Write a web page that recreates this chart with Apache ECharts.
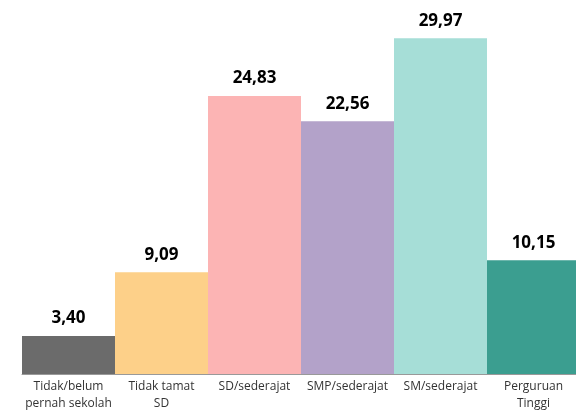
<!DOCTYPE html>
<html><head><meta charset="utf-8">
<script src="https://cdn.jsdelivr.net/npm/echarts@6/dist/echarts.min.js"></script>
<style>html,body{margin:0;padding:0;background:#fff;overflow:hidden;width:576px;height:412px}#c{width:580px;height:412px}</style>
</head><body><div id="c"></div>
<script>
const categories = ['Tidak/belum\npernah sekolah', 'Tidak tamat\nSD', 'SD/sederajat', 'SMP/sederajat', 'SM/sederajat', 'Perguruan\nTinggi'];
const values = [3.40, 9.09, 24.83, 22.56, 29.97, 10.15];
const colors = ['#6b6b6b', '#fdd089', '#fcb4b4', '#b3a2c9', '#a6ded7', '#3b9e90'];

const chart = echarts.init(document.getElementById('c'));
chart.setOption({
  animation: false,
  grid: { left: 22, right: 0, top: 38, bottom: 38 },
  xAxis: {
    type: 'category',
    data: categories,
    axisTick: { show: false },
    axisLine: { lineStyle: { color: '#999', width: 1 } },
    axisLabel: { color: '#333', fontSize: 12, fontFamily: 'Open Sans', lineHeight: 17, margin: 4, interval: 0 }
  },
  yAxis: { type: 'value', min: 0, max: 30, show: false, splitLine: { show: false } },
  series: [{
    type: 'bar',
    barCategoryGap: '0%',
    data: values.map((v, i) => ({ value: v, itemStyle: { color: colors[i] } })),
    label: {
      show: true, position: 'top', distance: 9,
      fontSize: 17, fontWeight: 'bold', color: '#000', fontFamily: 'Open Sans',
      formatter: p => p.value.toFixed(2).replace('.', ',')
    }
  }]
});
</script></body></html>
